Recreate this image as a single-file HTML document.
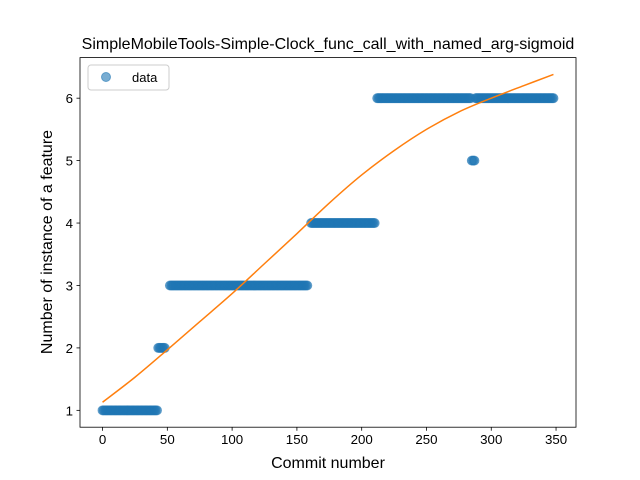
<!DOCTYPE html>
<html><head><meta charset="utf-8"><style>
body{margin:0;background:#fff}
svg{display:block;font-family:"Liberation Sans","DejaVu Sans",sans-serif}
</style></head><body>
<svg id="chart" width="640" height="480" viewBox="0 0 640 480" xmlns="http://www.w3.org/2000/svg">
<rect width="640" height="480" fill="#fff"/>
<text x="328" y="49" text-anchor="middle" font-size="16">SimpleMobileTools-Simple-Clock_func_call_with_named_arg-sigmoid</text>
<g id="marks"></g>
<g id="axes"></g>
<text x="328" y="468" text-anchor="middle" font-size="16">Commit number</text>
<text transform="translate(52,242) rotate(-90)" text-anchor="middle" font-size="16">Number of instance of a feature</text>
<g>
<rect x="88" y="65" width="81" height="25" rx="3" fill="#fff" stroke="#ccc"/>
<circle cx="106" cy="77" r="4.5" fill="#1f77b4" fill-opacity="0.6" stroke="#1f77b4" stroke-opacity="0.6"/>
<text x="132" y="82" font-size="13">data</text>
</g>
</svg>
<script>
// data segments: [startX, endX, value]
const segStart = [0, 43, 52, 161, 212, 285, 288];
const segEnd = [42, 48, 158, 210, 284, 287, 348];
const segValue = [1, 2, 3, 4, 6, 5, 6];
// fitted curve samples
const curveX = [0, 25, 50, 75, 100, 125, 150, 175, 200, 225, 250, 275, 300, 325, 348];
const curveY = [1.13, 1.53, 1.97, 2.42, 2.87, 3.35, 3.83, 4.32, 4.77, 5.16, 5.5, 5.78, 6.0, 6.2, 6.38];
const xTicks = [0, 50, 100, 150, 200, 250, 300, 350];
const yTicks = [1, 2, 3, 4, 5, 6];

const L=80,R=576,T=57.6,B=427.2;
const xMin=-17.4,xMax=365.4,yMin=0.73,yMax=6.65;
const sx=v=>L+(v-xMin)/(xMax-xMin)*(R-L);
const sy=v=>B-(v-yMin)/(yMax-yMin)*(B-T);
const NS="http://www.w3.org/2000/svg";
const marks=document.getElementById('marks');
const axes=document.getElementById('axes');
function mk(tag,attrs,parent){const e=document.createElementNS(NS,tag);for(const k in attrs)e.setAttribute(k,attrs[k]);parent.appendChild(e);return e;}

for(let s=0;s<segStart.length;s++){
  for(let x=segStart[s];x<=segEnd[s];x++){
    const c=mk('circle',{cx:sx(x),cy:sy(segValue[s]),r:4.5,fill:'#1f77b4','fill-opacity':0.6,stroke:'#1f77b4','stroke-opacity':0.6},marks);
    
    
  }
}
const P=curveX.map((x,i)=>[sx(x),sy(curveY[i])]);
let d='M'+P[0][0]+','+P[0][1];
for(let i=0;i<P.length-1;i++){
  const p0=P[Math.max(0,i-1)],p1=P[i],p2=P[i+1],p3=P[Math.min(P.length-1,i+2)];
  const c1=[p1[0]+(p2[0]-p0[0])/6,p1[1]+(p2[1]-p0[1])/6];
  const c2=[p2[0]-(p3[0]-p1[0])/6,p2[1]-(p3[1]-p1[1])/6];
  d+=' C'+c1[0]+','+c1[1]+' '+c2[0]+','+c2[1]+' '+p2[0]+','+p2[1];
}
const line=mk('path',{d:d,fill:'none',stroke:'#ff7f0e','stroke-width':1.5},marks);



const frame=mk('rect',{x:L,y:T,width:R-L,height:B-T,fill:'none',stroke:'#000','stroke-width':0.8},axes);


xTicks.forEach(t=>{
  const x=sx(t);
  mk('line',{x1:x,x2:x,y1:B,y2:B+3.5,stroke:'#000','stroke-width':0.8},axes);
  const tx=mk('text',{x:x,y:B+17,'text-anchor':'middle','font-size':13.3},axes);
  tx.textContent=t;
  
  
});
yTicks.forEach(t=>{
  const y=sy(t);
  mk('line',{x1:L,x2:L-3.5,y1:y,y2:y,stroke:'#000','stroke-width':0.8},axes);
  const tx=mk('text',{x:L-7,y:y+5,'text-anchor':'end','font-size':13.3},axes);
  tx.textContent=t;
  
  
});
</script>
</body></html>
